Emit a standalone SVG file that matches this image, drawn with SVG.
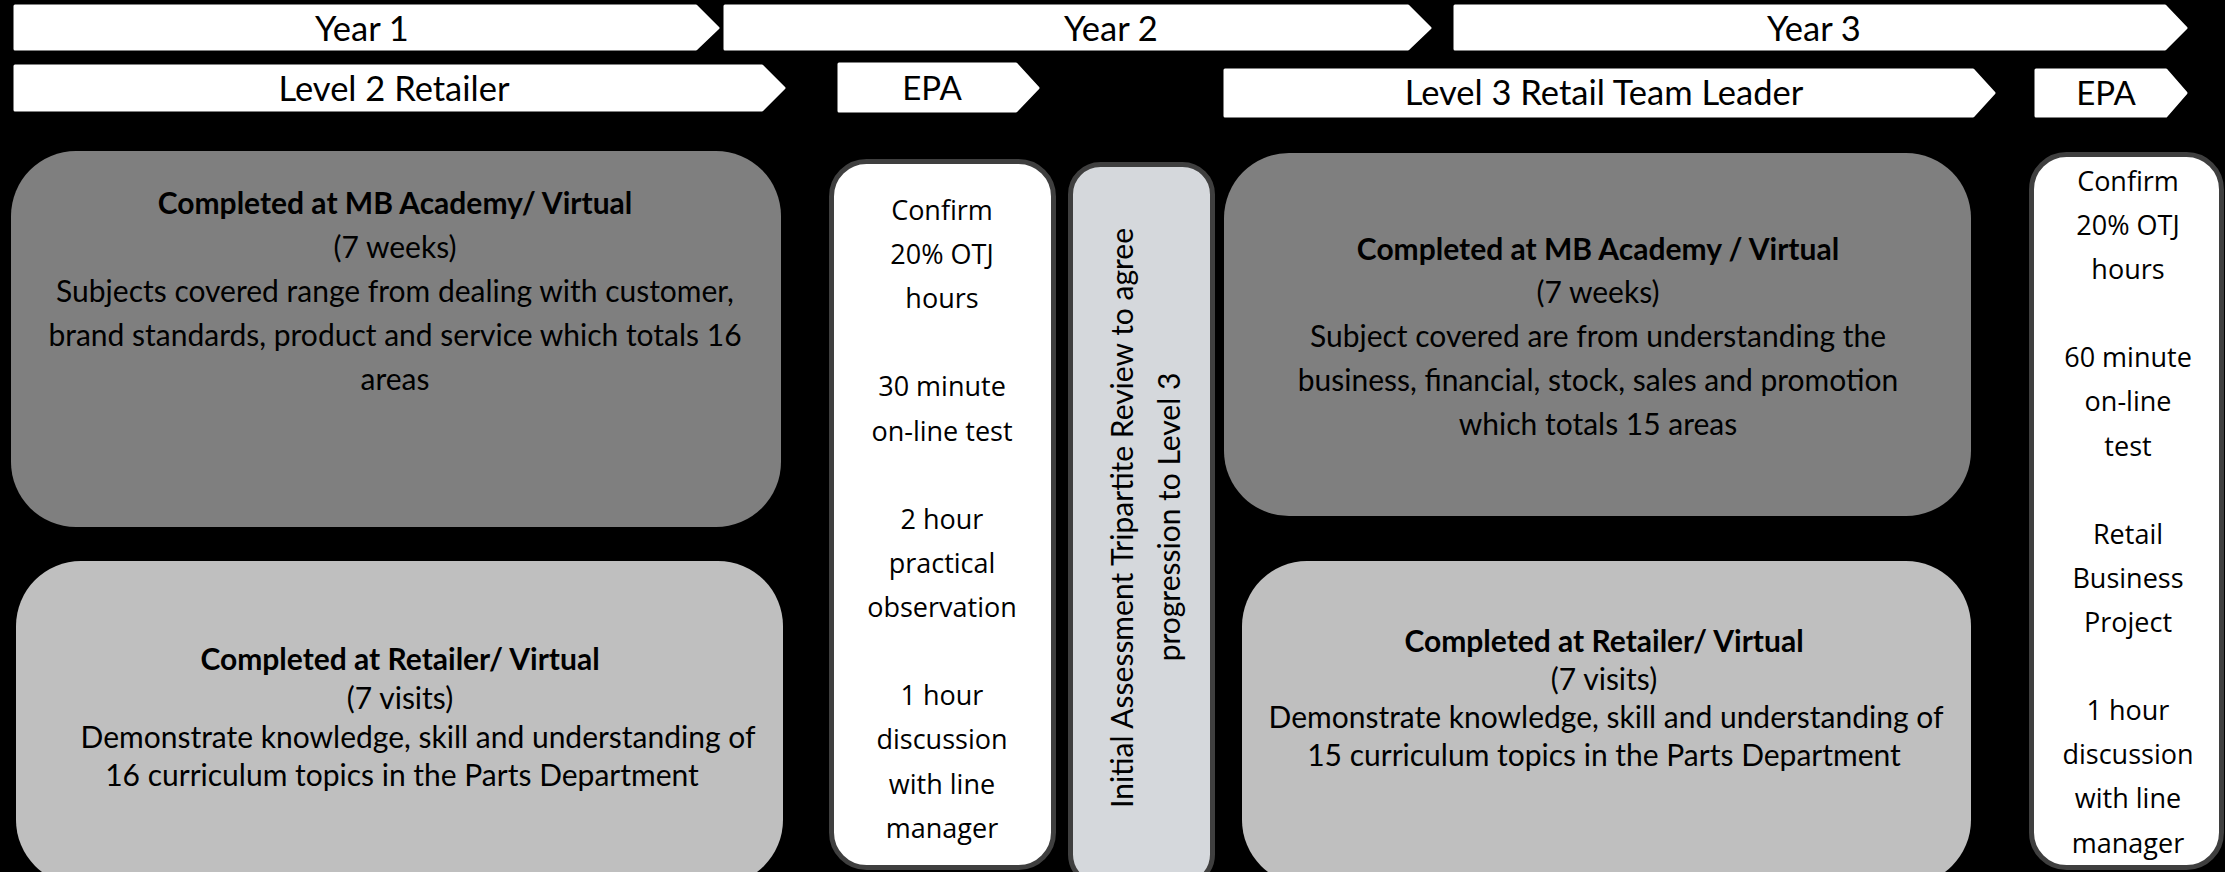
<svg xmlns="http://www.w3.org/2000/svg" width="2225" height="872" viewBox="0 0 2225 872">
<style>
.chev{fill:#ffffff;stroke:#ffffff;stroke-width:3;stroke-linejoin:round}
.hdr{font-family:Lato,"Liberation Sans",sans-serif;font-size:34.5px;fill:#000;text-anchor:middle}
.hdr.epl{font-size:33px}
.body{font-family:Lato,"Liberation Sans",sans-serif;font-size:30px;fill:#000;text-anchor:middle}
.bold{font-weight:bold}
.epa{font-family:"Open Sans","DejaVu Sans",sans-serif;font-size:27px;fill:#000;text-anchor:middle}
.vert{font-family:Lato,"Liberation Sans",sans-serif;font-size:30px;fill:#000;text-anchor:middle}
.dark{fill:#7f7f7f}
.light{fill:#bfbfbf}
.white{fill:#ffffff;stroke:#3f3f3f;stroke-width:5}
.vbox{fill:#d5d8dc;stroke:#3f3f3f;stroke-width:5}
</style>
<rect x="0" y="0" width="2225" height="872" fill="#000"/>

<g id="year1">
<polygon class="chev" points="15,6 696,6 718,28 696,49 15,49"/>
<text class="hdr" x="362" y="41">Year 1</text>
</g>
<g id="year2">
<polygon class="chev" points="725,6 1408,6 1430,28 1408,49 725,49"/>
<text class="hdr" x="1111" y="41">Year 2</text>
</g>
<g id="year3">
<polygon class="chev" points="1455,6 2165,6 2186,28 2165,49 1455,49"/>
<text class="hdr" x="1814" y="41">Year 3</text>
</g>

<g id="level2">
<polygon class="chev" points="15,66 762,66 784,88 762,110 15,110"/>
<text class="hdr" x="394" y="101">Level 2 Retailer</text>
</g>
<g id="epa1-label">
<polygon class="chev" points="839,64 1016,64 1038,88 1016,111 839,111"/>
<text class="hdr epl" x="932" y="100">EPA</text>
</g>
<g id="level3">
<polygon class="chev" points="1225,70 1973,70 1994,93 1973,116 1225,116"/>
<text class="hdr" x="1604" y="105">Level 3 Retail Team Leader</text>
</g>
<g id="epa2-label">
<polygon class="chev" points="2036,70 2166,70 2186,93 2166,116 2036,116"/>
<text class="hdr epl" x="2106" y="105">EPA</text>
</g>

<g id="academy1">
<rect class="dark" x="11" y="151" width="770" height="376" rx="65" ry="65"/>
<text class="body bold" x="395" y="214">Completed at MB Academy/ Virtual</text>
<text class="body" x="395" y="258">(7 weeks)</text>
<text class="body" x="395" y="302">Subjects covered range from dealing with customer,</text>
<text class="body" x="395" y="346">brand standards, product and service which totals 16</text>
<text class="body" x="395" y="390">areas</text>
</g>

<g id="retailer1">
<rect class="light" x="16" y="561" width="767" height="324" rx="65" ry="65"/>
<text class="body bold" x="400" y="670">Completed at Retailer/ Virtual</text>
<text class="body" x="400" y="709">(7 visits)</text>
<text class="body" x="418" y="748">Demonstrate knowledge, skill and understanding of</text>
<text class="body" x="402" y="786">16 curriculum topics in the Parts Department</text>
</g>

<g id="epa1">
<rect class="white" x="831.5" y="161.5" width="222" height="706" rx="35" ry="35"/>
<text class="epa" x="942" y="220">Confirm</text>
<text class="epa" x="942" y="264">20% OTJ</text>
<text class="epa" x="942" y="308">hours</text>
<text class="epa" x="942" y="396">30 minute</text>
<text class="epa" x="942" y="441">on-line test</text>
<text class="epa" x="942" y="529">2 hour</text>
<text class="epa" x="942" y="573">practical</text>
<text class="epa" x="942" y="617">observation</text>
<text class="epa" x="942" y="705">1 hour</text>
<text class="epa" x="942" y="749">discussion</text>
<text class="epa" x="942" y="794">with line</text>
<text class="epa" x="942" y="838">manager</text>
</g>

<g id="review">
<rect class="vbox" x="1070.5" y="164.5" width="142" height="720" rx="30" ry="30"/>
<text class="vert" transform="translate(1133,518) rotate(-90)">Initial Assessment Tripartite Review to agree</text>
<text class="vert" transform="translate(1180,517) rotate(-90)">progression to Level 3</text>
</g>

<g id="academy2">
<rect class="dark" x="1224" y="153" width="747" height="363" rx="65" ry="65"/>
<text class="body bold" x="1598" y="260">Completed at MB Academy / Virtual</text>
<text class="body" x="1598" y="303">(7 weeks)</text>
<text class="body" x="1598" y="347">Subject covered are from understanding the</text>
<text class="body" x="1598" y="391">business, financial, stock, sales and promotion</text>
<text class="body" x="1598" y="435">which totals 15 areas</text>
</g>

<g id="retailer2">
<rect class="light" x="1242" y="561" width="729" height="324" rx="65" ry="65"/>
<text class="body bold" x="1604" y="652">Completed at Retailer/ Virtual</text>
<text class="body" x="1604" y="690">(7 visits)</text>
<text class="body" x="1606" y="728">Demonstrate knowledge, skill and understanding of</text>
<text class="body" x="1604" y="766">15 curriculum topics in the Parts Department</text>
</g>

<g id="epa2">
<rect class="white" x="2031.5" y="154.5" width="190" height="713" rx="35" ry="35"/>
<text class="epa" x="2128" y="191">Confirm</text>
<text class="epa" x="2128" y="235">20% OTJ</text>
<text class="epa" x="2128" y="279">hours</text>
<text class="epa" x="2128" y="367">60 minute</text>
<text class="epa" x="2128" y="411">on-line</text>
<text class="epa" x="2128" y="456">test</text>
<text class="epa" x="2128" y="544">Retail</text>
<text class="epa" x="2128" y="588">Business</text>
<text class="epa" x="2128" y="632">Project</text>
<text class="epa" x="2128" y="720">1 hour</text>
<text class="epa" x="2128" y="764">discussion</text>
<text class="epa" x="2128" y="808">with line</text>
<text class="epa" x="2128" y="853">manager</text>
</g>

<g id="connectors"></g>
</svg>
